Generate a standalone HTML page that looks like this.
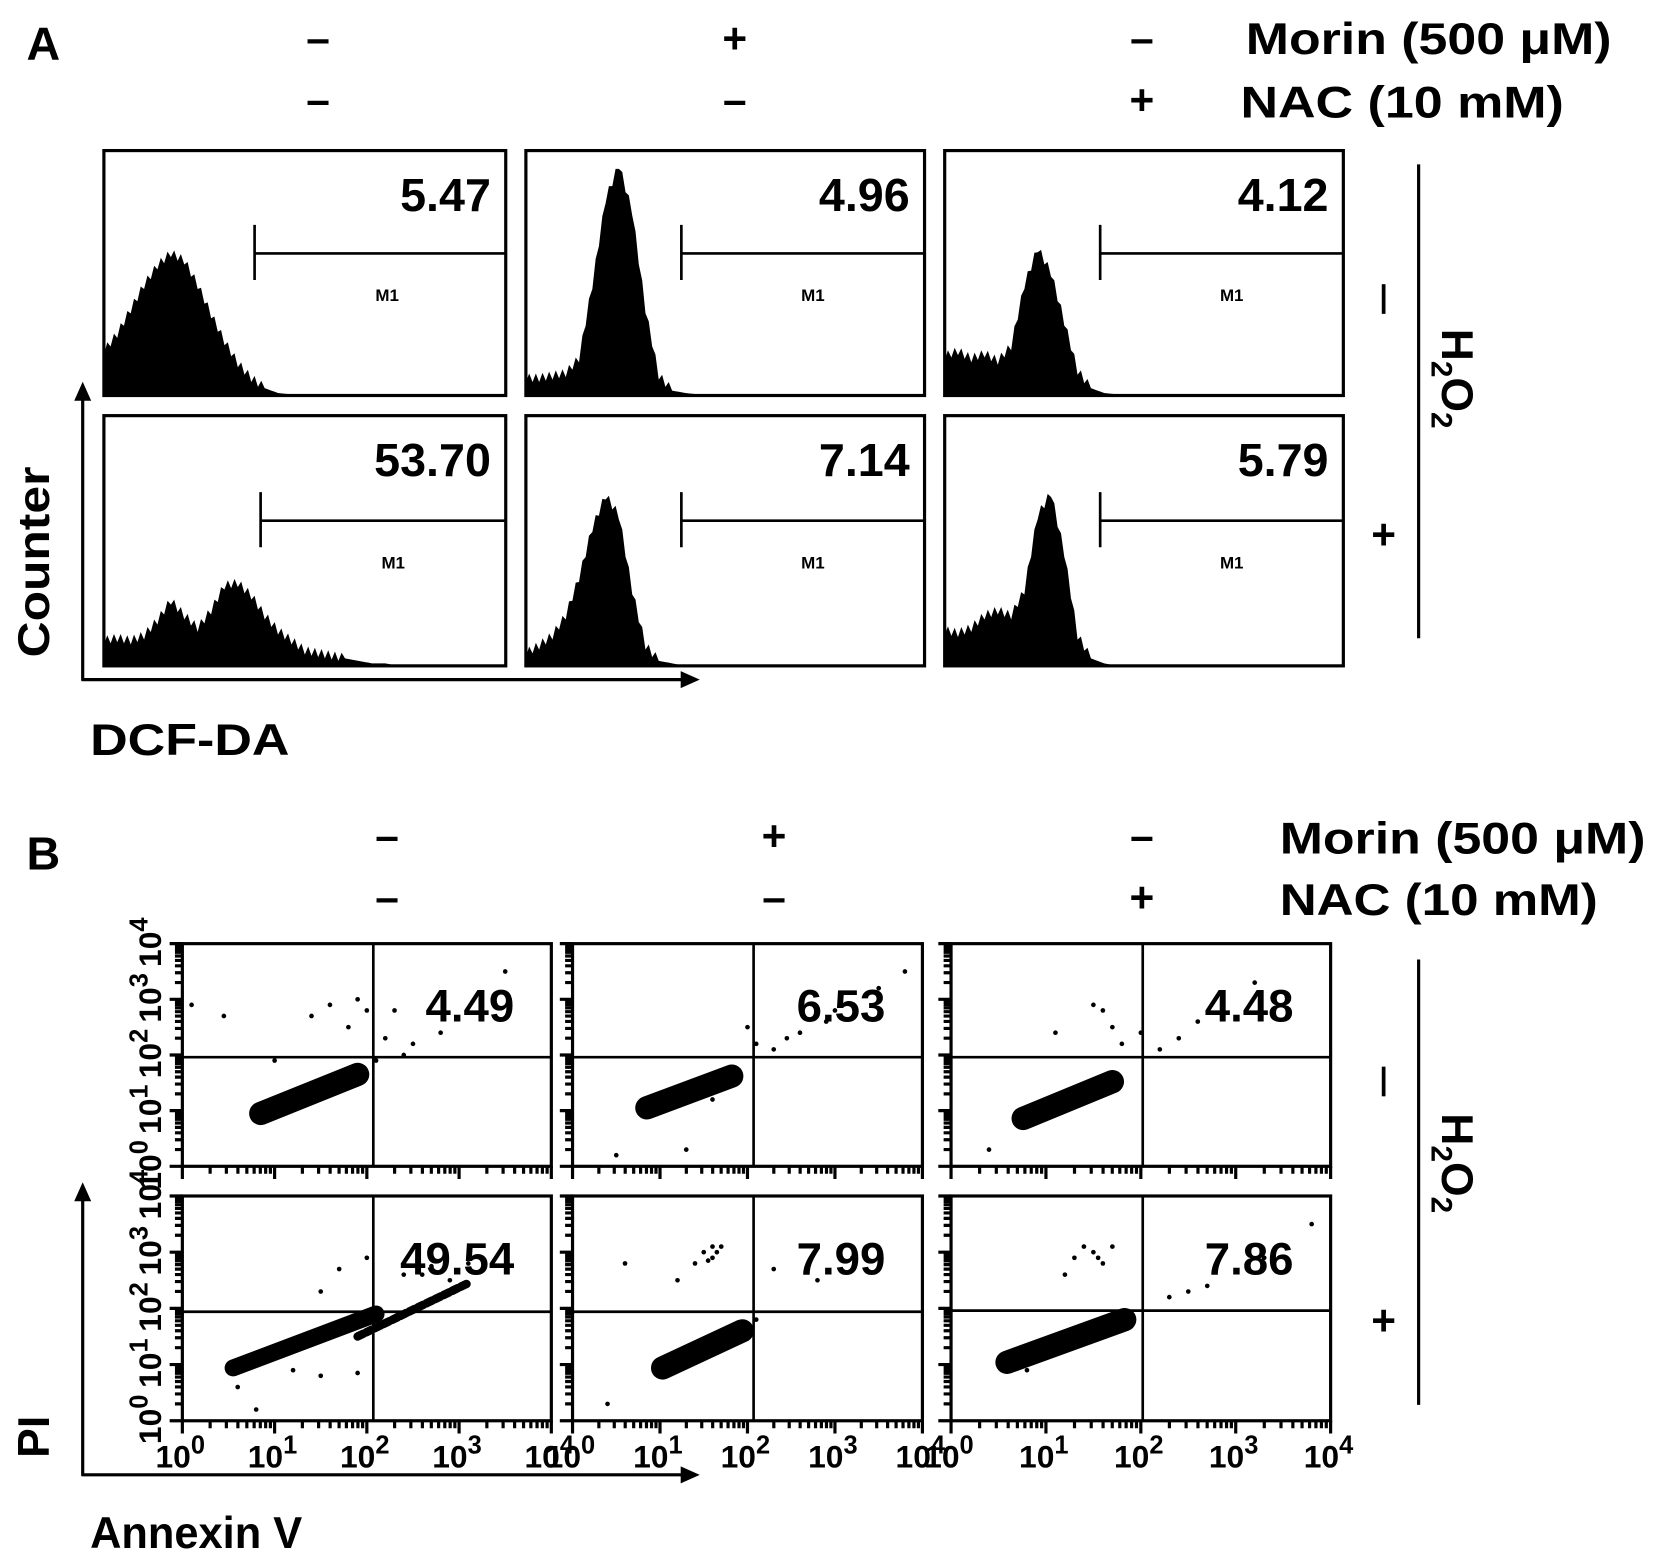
<!DOCTYPE html>
<html><head><meta charset="utf-8">
<style>
html,body{margin:0;padding:0;background:#fff;}
svg{display:block;}
text{font-family:"Liberation Sans",sans-serif;font-weight:bold;fill:#000;}
</style></head>
<body>
<svg id="fig" width="1654" height="1560" viewBox="0 0 1560 1471.3" xmlns="http://www.w3.org/2000/svg">
<g id="static">
  <text x="25" y="56" font-size="44">A</text>
  <text x="300" y="50" font-size="40" text-anchor="middle">–</text>
  <text x="693" y="50" font-size="40" text-anchor="middle">+</text>
  <text x="1077" y="50" font-size="40" text-anchor="middle">–</text>
  <text x="300" y="108" font-size="40" text-anchor="middle">–</text>
  <text x="693" y="108" font-size="40" text-anchor="middle">–</text>
  <text x="1077" y="108" font-size="40" text-anchor="middle">+</text>
  <text x="1175" y="51" font-size="42" textLength="345" lengthAdjust="spacingAndGlyphs">Morin (500 μM)</text>
  <text x="1170" y="111" font-size="42" textLength="305" lengthAdjust="spacingAndGlyphs">NAC (10 mM)</text>

  <text x="25" y="820" font-size="44">B</text>
  <text x="365" y="802" font-size="40" text-anchor="middle">–</text>
  <text x="730" y="802" font-size="40" text-anchor="middle">+</text>
  <text x="1077" y="802" font-size="40" text-anchor="middle">–</text>
  <text x="365" y="860" font-size="40" text-anchor="middle">–</text>
  <text x="730" y="860" font-size="40" text-anchor="middle">–</text>
  <text x="1077" y="860" font-size="40" text-anchor="middle">+</text>
  <text x="1207" y="805" font-size="42" textLength="345" lengthAdjust="spacingAndGlyphs">Morin (500 μM)</text>
  <text x="1207" y="863" font-size="42" textLength="300" lengthAdjust="spacingAndGlyphs">NAC (10 mM)</text>

  <line x1="1338" y1="155" x2="1338" y2="602" stroke="#000" stroke-width="3"/>
  <line x1="1305" y1="268" x2="1305" y2="296" stroke="#000" stroke-width="3.5"/>
  <text x="1305" y="518" font-size="40" text-anchor="middle">+</text>
  <text transform="translate(1360,310) rotate(90)" font-size="42">H<tspan font-size="28" dy="10">2</tspan><tspan dy="-10">O</tspan><tspan font-size="28" dy="10">2</tspan></text>

  <line x1="1338" y1="905" x2="1338" y2="1325" stroke="#000" stroke-width="3"/>
  <line x1="1305" y1="1006" x2="1305" y2="1034" stroke="#000" stroke-width="3.5"/>
  <text x="1305" y="1259" font-size="40" text-anchor="middle">+</text>
  <text transform="translate(1360,1050) rotate(90)" font-size="42">H<tspan font-size="28" dy="10">2</tspan><tspan dy="-10">O</tspan><tspan font-size="28" dy="10">2</tspan></text>

  <line x1="78" y1="642" x2="78" y2="375" stroke="#000" stroke-width="3"/>
  <polygon points="70,378 86,378 78,360" fill="#000"/>
  <line x1="77" y1="641" x2="645" y2="641" stroke="#000" stroke-width="3"/>
  <polygon points="642,633 642,649 660,641" fill="#000"/>
  <text transform="translate(46,620) rotate(-90)" font-size="42" textLength="180" lengthAdjust="spacingAndGlyphs">Counter</text>
  <text x="85" y="712" font-size="42" textLength="188" lengthAdjust="spacingAndGlyphs">DCF-DA</text>

  <line x1="78" y1="1392" x2="78" y2="1130" stroke="#000" stroke-width="3"/>
  <polygon points="70,1133 86,1133 78,1115" fill="#000"/>
  <line x1="77" y1="1391" x2="645" y2="1391" stroke="#000" stroke-width="3"/>
  <polygon points="642,1383 642,1399 660,1391" fill="#000"/>
  <text transform="translate(46,1375) rotate(-90)" font-size="42">PI</text>
  <text x="85" y="1460" font-size="42" textLength="200" lengthAdjust="spacingAndGlyphs">Annexin V</text>
</g>
<g id="hists"></g>
<g id="scatters"></g>
</svg>
<script>
// ---------- Panel A: histogram data (normalized heights, 30 bins) ----------
const histValues = ["5.47","4.96","4.12","53.70","7.14","5.79"];
const histA1 = [0.18,0.25,0.35,0.45,0.53,0.58,0.55,0.45,0.33,0.22,0.13,0.07,0.03,0.01,0.005,0.005,0,0,0,0,0,0,0,0,0,0,0,0,0,0];
const histA2 = [0.07,0.07,0.08,0.09,0.15,0.45,0.8,0.94,0.75,0.35,0.08,0.02,0.01,0.005,0,0,0,0,0,0,0,0,0,0,0,0,0,0,0,0];
const histA3 = [0.16,0.18,0.15,0.17,0.14,0.2,0.45,0.6,0.5,0.3,0.1,0.03,0.01,0.005,0,0,0,0,0,0,0,0,0,0,0,0,0,0,0,0];
const histB1 = [0.1,0.11,0.1,0.12,0.18,0.26,0.2,0.15,0.22,0.32,0.33,0.28,0.2,0.14,0.1,0.06,0.05,0.04,0.03,0.02,0.01,0.01,0,0,0,0,0,0,0,0];
const histB2 = [0.05,0.08,0.12,0.2,0.35,0.55,0.68,0.6,0.3,0.08,0.02,0.01,0,0,0,0,0,0,0,0,0,0,0,0,0,0,0,0,0,0];
const histB3 = [0.14,0.13,0.15,0.2,0.22,0.2,0.3,0.6,0.69,0.45,0.12,0.03,0.01,0,0,0,0,0,0,0,0,0,0,0,0,0,0,0,0,0];
const gateStart = [0.375,0.39,0.39,0.39,0.39,0.39];

// ---------- Panel B: scatter data (log10 units) ----------
const quadValues = ["4.49","6.53","4.48","49.54","7.99","7.86"];
const quadX = [2.07,2.07,2.02,2.07,2.07,2.02];
const quadY = [1.96,1.96,1.96,1.94,1.94,1.96];
const clusterFrom = [[0.85,0.95],[0.85,1.05],[0.76,0.86],[0.55,0.94],[1.03,0.94],[0.59,1.04]];
const clusterTo   = [[1.9,1.65],[1.82,1.62],[1.7,1.52],[2.1,1.9],[1.94,1.6],[1.83,1.8]];
const bandFrom = [null,null,null,[1.9,1.5],null,null];
const bandTo   = [null,null,null,[3.1,2.45],null,null];
const dots = [
 [[1.6,2.9],[1.4,2.7],[2.3,2.8],[2.8,2.4],[0.45,2.7],[1.8,2.5],[2.2,2.3],[2.5,2.2],[3.5,3.5],[2.1,1.9],[1.0,1.9],[2.4,2.0],[1.9,3.0],[2.0,2.8],[0.1,2.9]],
 [[2.3,2.1],[2.6,2.4],[2.9,2.6],[3.2,2.9],[3.5,3.2],[3.8,3.5],[2.0,2.5],[1.3,0.3],[0.5,0.2],[2.1,2.2],[2.45,2.3],[3.0,2.8],[1.6,1.2]],
 [[1.6,2.8],[1.7,2.5],[1.8,2.2],[2.2,2.1],[2.6,2.6],[3.2,3.3],[2.0,2.4],[0.4,0.3],[1.5,2.9],[2.4,2.3],[1.1,2.4]],
 [[1.7,2.7],[2.0,2.9],[2.6,2.6],[2.9,2.5],[3.1,2.8],[1.5,2.3],[0.8,0.2],[2.4,2.6],[2.7,2.75],[1.2,0.9],[1.5,0.8],[1.9,0.85],[0.6,0.6]],
 [[1.5,3.0],[1.6,2.9],[1.6,3.1],[1.4,2.8],[1.7,3.1],[0.6,2.8],[2.3,2.7],[2.8,2.5],[3.2,2.9],[2.1,1.8],[0.4,0.3],[1.55,2.85],[1.65,3.0],[1.2,2.5]],
 [[1.5,3.0],[1.6,2.8],[1.4,3.1],[1.7,3.1],[1.2,2.6],[2.3,2.2],[2.7,2.4],[3.3,2.9],[3.8,3.5],[0.8,0.9],[1.55,2.9],[1.3,2.9],[2.5,2.3]]
];
const tickLabels = ["0","1","2","3","4"];

const NS = "http://www.w3.org/2000/svg";
function mk(tag, attrs, parent){ const e=document.createElementNS(NS,tag); for(const k in attrs) e.setAttribute(k,attrs[k]); parent.appendChild(e); return e; }

const hBoxes = [[98,142,379,231],[496,142,376,231],[891,142,376,231],[98,392,379,236],[496,392,376,236],[891,392,376,236]];
const histData = [histA1,histA2,histA3,histB1,histB2,histB3];
const hg = document.getElementById('hists');
histData.forEach((d,i)=>{
  const [bx,by,bw,bh]=hBoxes[i];
  const g = mk('g',{},hg);
  
  
  const xs = t => bx + t*bw;
  const ys = v => by + bh - v*bh;
  const n = d.length, step = 1/n;
  let p = 'M'+bx+','+(by+bh);
  d.forEach((v,j)=>{
    const x0 = xs(j*step), x1 = xs((j+1)*step);
    const nv = j<n-1 ? d[j+1] : v;
    for(let k=0;k<4;k++){
      const f = k/4, val = v + (nv-v)*f;
      const jag = (k%2 ? 0.02 : -0.015) * (val>0.03?1:0);
      p += ' L'+(x0+(x1-x0)*f).toFixed(1)+','+ys(Math.max(0,val+jag)).toFixed(1);
    }
  });
  p += ' L'+(bx+bw)+','+(by+bh)+' Z';
  const path = mk('path',{d:p,fill:'#000'},g);
  
  
  const rect = mk('rect',{x:bx,y:by,width:bw,height:bh,fill:'none',stroke:'#000','stroke-width':3},g);
  
  
  const gx = xs(gateStart[i]), gy = by + bh*0.42;
  const gate = mk('path',{d:'M'+gx+','+(gy-27)+' V'+(gy+25)+' M'+gx+','+gy+' H'+(bx+bw),stroke:'#000','stroke-width':2.5,fill:'none'},g);
  
  
  const m1 = mk('text',{x:xs(gateStart[i]+0.33),y:gy+45,'font-size':16,'font-weight':'normal',fill:'#777','text-anchor':'middle'},g);
  
  
  m1.textContent='M1';
  const val = mk('text',{x:bx+bw-14,y:by+57,'font-size':44,'text-anchor':'end'},g);
  
  
  val.textContent = histValues[i];
});

const sBoxes = [[172,890,348,210],[540,890,330,210],[897,890,358,210],[172,1128,348,212],[540,1128,330,212],[897,1128,358,212]];
const sg = document.getElementById('scatters');
sBoxes.forEach((b,i)=>{
  const [bx,by,bw,bh]=b;
  const g = mk('g',{},sg);
  
  
  const xs = v => bx + v/4*bw;
  const ys = v => by + bh - v/4*bh;
  let tp='';
  for(let d=0; d<4; d++){
    for(let m=1;m<10;m++){
      const v=d+Math.log10(m), len = m===1?12:7;
      tp += 'M'+xs(v)+','+(by+bh)+' v'+len+' ';
      tp += 'M'+bx+','+ys(v)+' h-'+len+' ';
    }
  }
  tp += 'M'+xs(4)+','+(by+bh)+' v12 M'+bx+','+ys(4)+' h-12';
  const ticks = mk('path',{d:tp,stroke:'#000','stroke-width':3,fill:'none'},g);
  
  
  const c = mk('line',{x1:xs(clusterFrom[i][0]),y1:ys(clusterFrom[i][1]),x2:xs(clusterTo[i][0]),y2:ys(clusterTo[i][1]),stroke:'#000','stroke-width':i===3?16:22,'stroke-linecap':'round'},g);
  
  
  if(bandFrom[i]){
    const bnd = mk('line',{x1:xs(bandFrom[i][0]),y1:ys(bandFrom[i][1]),x2:xs(bandTo[i][0]),y2:ys(bandTo[i][1]),stroke:'#000','stroke-width':8,'stroke-linecap':'round','stroke-dasharray':'6 3'},g);
    
    
  }
  dots[i].forEach(pt=>{
    const dt = mk('circle',{cx:xs(pt[0]),cy:ys(pt[1]),r:2.2,fill:'#000'},g);
    
    
  });
  const q = mk('path',{d:'M'+xs(quadX[i])+','+by+' V'+(by+bh)+' M'+bx+','+ys(quadY[i])+' H'+(bx+bw),stroke:'#000','stroke-width':2.5,fill:'none'},g);
  
  
  const fr = mk('rect',{x:bx,y:by,width:bw,height:bh,fill:'none',stroke:'#000','stroke-width':3},g);
  
  
  const qv = mk('text',{x:bx+bw-35,y:ys(3)+21,'font-size':43,'text-anchor':'end'},g);
  
  
  qv.textContent = quadValues[i];
  if(i%3===0){
    tickLabels.forEach((t,k)=>{
      const tl = mk('text',{transform:'translate('+(bx-20)+','+(ys(k)+22)+') rotate(-90)','font-size':30,'font-weight':'normal'},g);
      
      
      tl.innerHTML = '10<tspan dy="-13" font-size="24">'+t+'</tspan>';
    });
  }
  if(i>=3){
    tickLabels.forEach((t,k)=>{
      const tl = mk('text',{x:xs(k)-2,y:by+bh+44,'font-size':30,'font-weight':'normal','text-anchor':'middle'},g);
      
      
      tl.innerHTML = '10<tspan dy="-13" font-size="24">'+t+'</tspan>';
    });
  }
});
</script>
</body></html>
